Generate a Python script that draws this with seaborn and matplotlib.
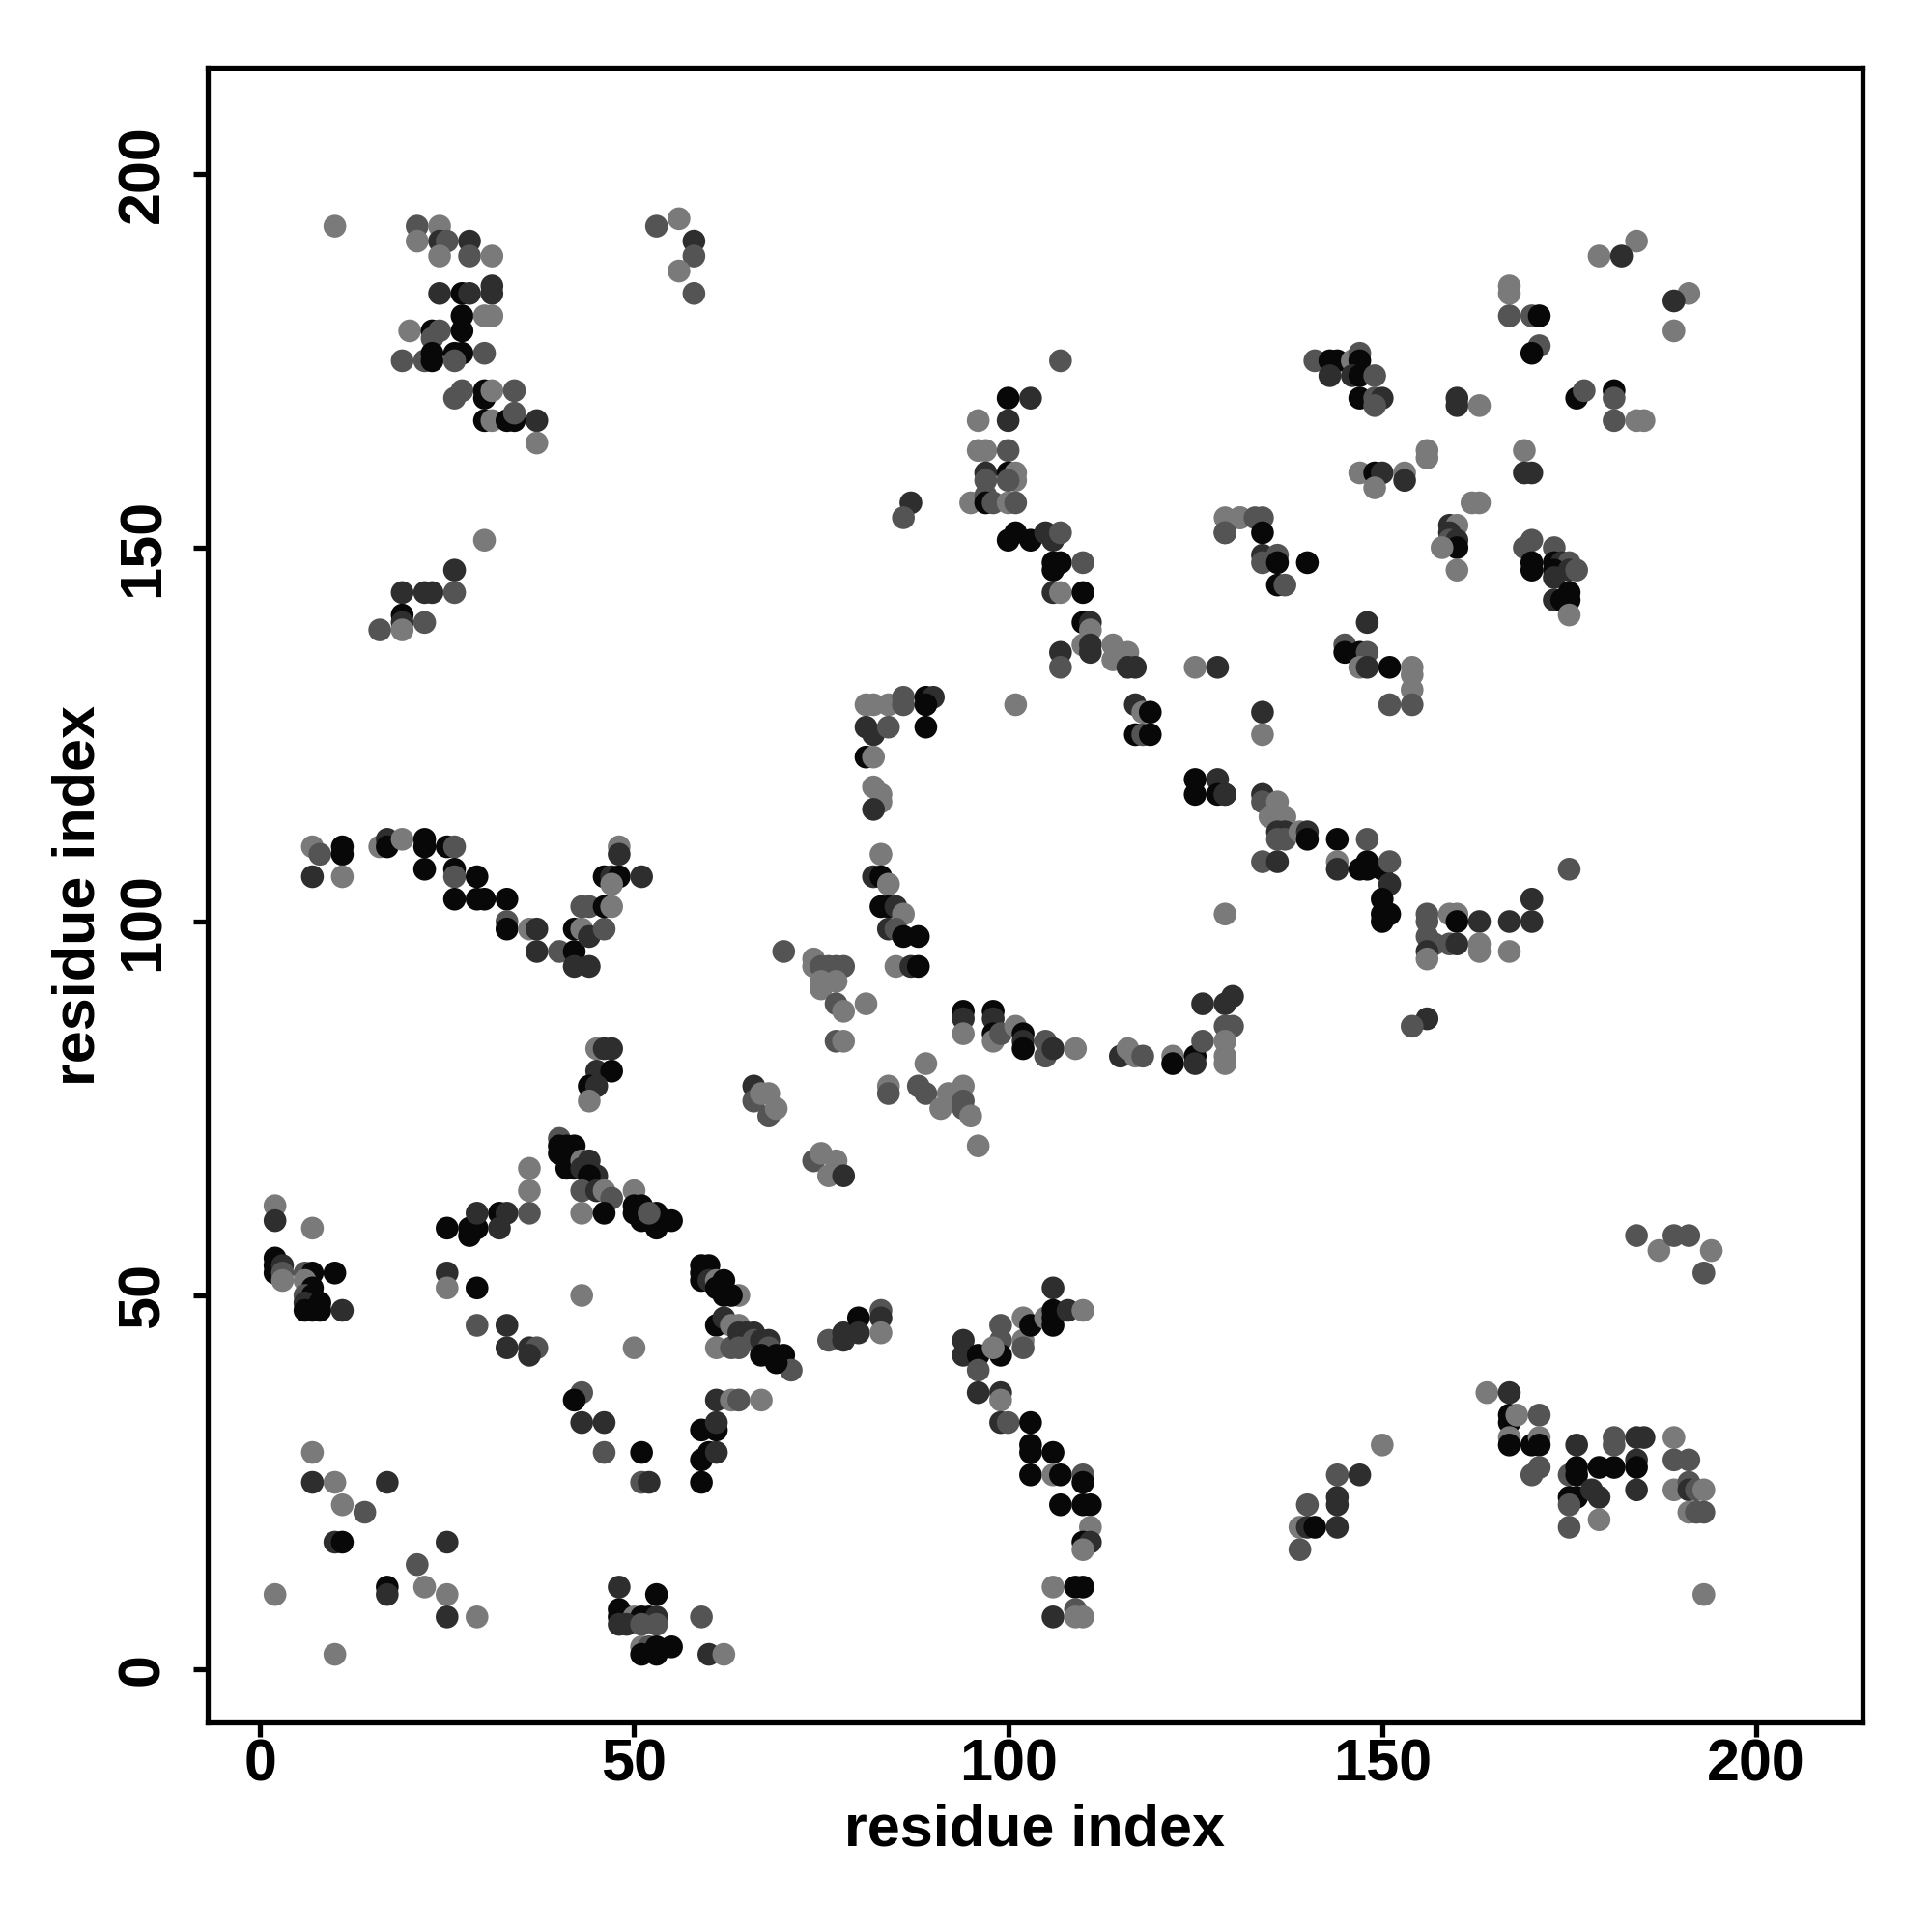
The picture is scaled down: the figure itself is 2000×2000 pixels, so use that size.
"""Residue contact map: predicted contacts shaded by confidence level."""

import matplotlib

matplotlib.use("Agg")
import matplotlib.pyplot as plt
import numpy as np
import pandas as pd
import seaborn as sns

# contact pairs (residue i, residue j) and confidence level (1 = low ... 4 = high),
# grouped by region of the map
a_i = [10, 21, 21, 24, 24, 25, 28, 28, 24, 31, 24, 27, 28, 31, 31, 27, 30, 31, 20, 23,
       24, 23, 27, 19, 22, 23, 23, 26, 27, 26, 30, 27, 26, 30, 30, 31, 34, 30, 31, 33,
       34, 34, 37, 37, 30, 26, 19, 22, 23, 26, 19, 19, 19, 16, 22]
a_j = [193, 193, 191, 193, 191, 191, 191, 189, 189, 189, 184, 184, 184, 185, 184, 181, 181, 181, 179, 179,
       179, 178, 179, 175, 175, 176, 175, 176, 176, 175, 176, 171, 170, 171, 170, 171, 171, 167, 167, 167,
       167, 168, 167, 164, 151, 147, 144, 144, 144, 144, 141, 140, 139, 139, 140]
a_p = [1, 2, 1, 1, 3, 2, 3, 2, 1, 1, 3, 4, 3, 3, 3, 4, 1, 1, 1, 4,
       2, 2, 4, 2, 2, 4, 4, 4, 4, 2, 2, 2, 2, 4, 4, 1, 2, 4, 1, 4,
       4, 2, 3, 1, 1, 3, 3, 3, 3, 2, 4, 3, 1, 2, 2]

b_i = [53, 56, 58, 58, 56, 58]
b_j = [193, 194, 191, 189, 187, 184]
b_p = [2, 1, 3, 2, 1, 2]

c_i = [107, 100, 103, 96, 100, 96, 97, 100, 97, 100, 101, 97, 101, 100, 95, 97, 97, 98, 100, 101,
       87, 86, 100, 101, 103, 105, 106, 107, 106, 107, 106, 110, 106, 107, 110, 110, 111, 111, 107, 107,
       110, 111, 111, 114, 116, 114, 116, 117, 117, 118, 119, 117, 118, 119, 101]
c_j = [175, 170, 170, 167, 167, 163, 163, 163, 160, 160, 160, 159, 159, 159, 156, 157, 156, 156, 156, 156,
       156, 154, 151, 152, 151, 152, 151, 152, 148, 148, 147, 148, 144, 144, 144, 140, 140, 139, 136, 134,
       137, 136, 137, 137, 136, 135, 134, 134, 129, 128, 128, 125, 125, 125, 129]
c_p = [2, 4, 3, 1, 3, 1, 1, 2, 3, 4, 1, 2, 1, 2, 1, 2, 4, 2, 1, 2,
       3, 2, 4, 4, 4, 3, 3, 2, 4, 4, 4, 2, 3, 1, 4, 4, 3, 1, 3, 2,
       1, 3, 3, 1, 1, 1, 3, 3, 3, 1, 4, 4, 2, 4, 1]

d_i = [81, 82, 84, 86, 86, 89, 90, 89, 81, 82, 84, 89, 81, 82, 82, 83, 83, 82, 83, 82,
       83, 84, 83, 84, 85, 86, 84, 85, 86, 88, 85, 87, 88]
d_j = [129, 129, 129, 130, 129, 130, 130, 129, 126, 125, 126, 126, 122, 122, 118, 117, 116, 115, 109, 106,
       106, 105, 102, 102, 102, 101, 99, 99, 98, 98, 94, 94, 94]
d_p = [1, 1, 1, 2, 2, 4, 3, 4, 3, 3, 2, 4, 4, 1, 1, 1, 1, 3, 1, 3,
       4, 1, 4, 4, 3, 1, 3, 2, 4, 4, 1, 3, 4]

e_i = [129, 131, 129, 131, 133, 134, 129, 134, 134, 136, 134, 136, 140, 136, 137, 125, 128, 134, 134, 125,
       125, 128, 128, 129, 129, 134, 134, 136, 135, 137, 136, 137, 136, 137, 139, 140, 140, 134, 136, 129]
e_j = [154, 154, 152, 154, 154, 154, 152, 152, 149, 149, 148, 148, 148, 145, 145, 134, 134, 128, 125, 119,
       117, 119, 117, 117, 117, 117, 116, 116, 114, 114, 112, 112, 111, 111, 112, 112, 111, 108, 108, 101]
e_p = [1, 1, 2, 1, 2, 2, 2, 4, 3, 2, 2, 4, 4, 4, 2, 1, 3, 3, 1, 4,
       4, 3, 4, 3, 3, 3, 2, 1, 1, 1, 3, 3, 2, 2, 1, 3, 4, 2, 3, 1]

f_i = [184, 179, 182, 167, 167, 167, 170, 171, 171, 170, 191, 189, 189, 141, 143, 144, 143, 146, 147, 147,
       146, 147, 149, 147, 149, 150, 149, 160, 160, 163, 176, 177, 181, 181, 181, 184, 185, 156, 156, 169,
       169, 170, 147, 149, 150, 153, 153, 149, 162, 163]
f_j = [191, 189, 189, 185, 184, 181, 181, 181, 177, 176, 184, 183, 179, 175, 175, 175, 173, 175, 176, 175,
       173, 173, 173, 170, 170, 170, 169, 170, 169, 169, 170, 171, 171, 170, 167, 167, 167, 163, 162, 163,
       160, 160, 160, 160, 160, 160, 159, 158, 156, 156]
f_p = [1, 1, 3, 1, 1, 2, 2, 4, 2, 4, 1, 3, 1, 2, 4, 4, 3, 1, 2, 4,
       3, 4, 2, 4, 2, 3, 2, 3, 3, 1, 4, 2, 4, 2, 2, 1, 1, 1, 1, 1,
       3, 3, 1, 4, 3, 1, 3, 1, 1, 1]

g_i = [159, 160, 159, 159, 160, 160, 158, 169, 170, 173, 170, 173, 174, 175, 160, 170, 173, 175, 176, 173,
       173, 174, 175, 175, 175, 148, 145, 145, 147, 148, 147, 148, 151, 154, 154, 154, 154, 151]
g_j = [153, 153, 152, 151, 151, 150, 150, 150, 151, 150, 148, 148, 148, 148, 147, 147, 147, 147, 147, 146,
       143, 143, 144, 143, 141, 140, 137, 136, 136, 136, 134, 134, 134, 134, 133, 131, 129, 129]
g_p = [3, 1, 3, 2, 3, 4, 1, 2, 2, 2, 4, 4, 3, 2, 1, 4, 4, 3, 2, 3,
       3, 4, 4, 4, 1, 3, 2, 4, 4, 2, 1, 3, 4, 1, 1, 1, 2, 2]

h_i = [144, 148, 144, 144, 147, 148, 148, 150, 151, 151, 150, 150, 151, 150, 175, 156, 156, 159, 160, 160,
       163, 167, 170, 170, 156, 157, 159, 160, 163, 163, 167, 156, 156, 156, 154]
h_j = [111, 111, 108, 107, 107, 108, 107, 107, 108, 105, 103, 101, 101, 100, 107, 101, 100, 101, 101, 100,
       100, 100, 100, 103, 98, 97, 97, 97, 97, 96, 96, 96, 95, 87, 86]
h_p = [4, 2, 1, 3, 4, 4, 4, 4, 2, 3, 4, 4, 4, 4, 2, 2, 2, 1, 1, 4,
       3, 3, 3, 3, 2, 2, 2, 3, 1, 1, 1, 3, 1, 3, 2]

m_i = [70, 74, 74, 75, 76, 77, 78, 75, 77, 75, 77, 78, 81, 77, 78, 66, 66, 67, 68, 68,
       69, 84, 84, 88, 89, 92, 94, 94, 94, 91, 95, 89, 96, 74, 75, 77, 76, 78]
m_j = [96, 95, 94, 94, 94, 94, 94, 92, 92, 91, 89, 88, 89, 84, 84, 78, 76, 77, 77, 74,
       75, 78, 77, 78, 77, 77, 78, 76, 75, 75, 74, 81, 70, 68, 69, 68, 66, 66]
m_p = [2, 1, 1, 2, 2, 2, 2, 1, 1, 1, 2, 1, 1, 2, 1, 3, 2, 1, 1, 2,
       1, 1, 2, 2, 2, 1, 1, 2, 2, 1, 1, 1, 1, 2, 1, 1, 1, 3]

n_i = [94, 94, 94, 98, 98, 98, 98, 99, 101, 102, 102, 102, 105, 105, 106, 109, 115, 116, 117, 118,
       122, 122, 125, 125, 126, 126, 129, 130, 129, 130, 129, 129, 129]
n_j = [88, 87, 85, 88, 87, 85, 84, 85, 86, 85, 84, 83, 84, 82, 83, 83, 82, 83, 82, 82,
       82, 81, 82, 81, 84, 89, 89, 90, 86, 86, 84, 82, 81]
n_p = [4, 3, 1, 4, 3, 4, 1, 2, 1, 4, 3, 4, 2, 2, 3, 1, 3, 1, 1, 2,
       1, 4, 4, 3, 2, 3, 3, 3, 2, 2, 1, 1, 1]

i_i = [7, 8, 7, 11, 11, 11, 16, 17, 17, 19, 22, 22, 25, 26, 22, 26, 26, 29, 26, 29,
       30, 33, 33, 33, 36, 37, 37, 40, 42, 42, 44, 42, 43, 44, 46, 43, 44, 46, 47, 46,
       47, 48, 51, 47, 48, 48, 45, 46, 47, 45, 47, 44, 45, 44]
i_j = [110, 109, 106, 110, 109, 106, 110, 111, 110, 111, 111, 110, 110, 110, 107, 107, 106, 106, 103, 103,
       103, 103, 100, 99, 99, 99, 96, 96, 96, 94, 94, 99, 99, 98, 99, 102, 102, 102, 102, 106,
       106, 106, 106, 105, 110, 109, 83, 83, 83, 80, 80, 78, 78, 76]
i_p = [1, 2, 3, 4, 4, 1, 1, 3, 4, 1, 4, 4, 4, 2, 4, 4, 2, 4, 4, 4,
       4, 4, 2, 4, 1, 3, 3, 2, 4, 3, 3, 4, 1, 3, 2, 2, 2, 4, 1, 4,
       3, 4, 3, 1, 1, 3, 1, 3, 3, 3, 4, 4, 3, 1]

j_i = [2, 2, 7, 2, 2, 2, 3, 3, 3, 6, 7, 6, 7, 6, 7, 6, 8, 6, 7, 8,
       10, 11, 25, 28, 28, 29, 29, 32, 33, 32, 25, 25, 29, 36, 36, 36, 29, 33, 33, 36,
       37, 36]
j_j = [62, 60, 59, 55, 54, 53, 54, 53, 52, 53, 53, 52, 51, 50, 50, 49, 49, 48, 48, 48,
       53, 48, 59, 58, 59, 59, 61, 61, 61, 59, 53, 51, 51, 67, 64, 61, 46, 46, 43, 43,
       43, 42]
j_p = [1, 3, 1, 4, 4, 4, 3, 2, 1, 2, 4, 1, 4, 2, 4, 3, 4, 4, 4, 4,
       4, 3, 4, 4, 4, 4, 3, 4, 3, 3, 3, 1, 4, 1, 1, 2, 2, 3, 3, 3,
       2, 3]

k_i = [40, 40, 41, 42, 40, 41, 41, 42, 43, 44, 43, 45, 44, 43, 45, 46, 47, 43, 46, 50,
       50, 51, 50, 51, 52, 53, 53, 55, 52, 43, 59, 60, 59, 59, 60, 61, 62, 62, 64, 61,
       63, 61, 62, 63, 61, 63, 64, 64, 65, 66, 66, 67, 68, 68, 69, 70, 70, 71, 69, 67, 64]
k_j = [71, 70, 70, 70, 69, 69, 67, 67, 68, 68, 67, 66, 66, 64, 64, 64, 63, 61, 61, 64,
       62, 62, 61, 60, 60, 61, 59, 60, 61, 50, 54, 54, 53, 52, 52, 52, 52, 50, 50, 51,
       50, 46, 47, 46, 43, 43, 46, 45, 45, 45, 44, 44, 44, 43, 42, 42, 41, 40, 41, 42, 43]
k_p = [2, 4, 4, 4, 4, 4, 4, 4, 1, 3, 3, 3, 4, 2, 3, 1, 2, 1, 4, 1,
       4, 4, 4, 4, 4, 4, 4, 4, 2, 1, 4, 4, 4, 4, 3, 1, 4, 4, 1, 4,
       4, 4, 3, 1, 1, 2, 1, 3, 3, 3, 2, 3, 3, 2, 4, 4, 4, 2, 4, 4, 2]

l_i = [50, 43, 42, 43, 46, 46, 51, 51, 52, 59, 59, 60, 61, 59, 61, 61, 61, 63, 64, 67,
       7, 7, 10, 17, 11, 14, 10, 11, 25, 21, 2, 17, 17, 22, 25, 25, 29, 10, 48, 53,
       48, 48, 49, 50, 51, 52, 53, 48, 49, 51, 53, 59, 51, 52, 53, 55, 51, 53, 60, 62]
l_j = [43, 37, 36, 33, 33, 29, 29, 25, 25, 25, 28, 29, 29, 32, 32, 33, 36, 36, 36, 36,
       29, 25, 25, 25, 22, 21, 17, 17, 17, 14, 10, 11, 10, 11, 10, 7, 7, 2, 11, 10,
       8, 7, 7, 7, 7, 7, 7, 6, 6, 6, 6, 7, 3, 3, 3, 3, 2, 2, 2, 2]
l_p = [1, 2, 4, 3, 3, 2, 4, 2, 3, 4, 4, 4, 3, 4, 4, 3, 3, 1, 2, 1,
       1, 3, 1, 3, 1, 2, 3, 4, 3, 2, 1, 4, 3, 1, 1, 3, 1, 1, 3, 4,
       4, 4, 4, 1, 4, 4, 3, 3, 3, 2, 2, 2, 1, 2, 4, 4, 4, 4, 3, 1]

o_i = [76, 78, 78, 80, 80, 83, 83, 83, 94, 94, 96, 96, 96, 99, 99, 99, 99, 99, 98, 102,
       102, 102, 103, 105, 106, 106, 106, 106, 108, 110, 99, 100, 103, 103, 103, 106, 103, 106, 107, 110,
       110, 107, 110, 111, 111, 110, 111, 110, 106, 109, 110, 106, 109, 110, 109]
o_j = [44, 45, 44, 47, 45, 48, 47, 45, 44, 42, 42, 40, 37, 37, 36, 46, 44, 42, 43, 47,
       44, 43, 46, 47, 51, 48, 47, 46, 48, 48, 33, 33, 33, 30, 29, 29, 26, 26, 26, 26,
       25, 22, 22, 22, 19, 17, 17, 16, 11, 11, 11, 7, 8, 7, 7]
o_p = [2, 3, 3, 4, 3, 2, 3, 1, 3, 3, 4, 2, 3, 3, 1, 2, 2, 4, 1, 1,
       1, 2, 4, 1, 3, 4, 4, 4, 3, 1, 3, 2, 4, 4, 4, 4, 4, 1, 4, 2,
       4, 4, 4, 4, 1, 4, 3, 1, 1, 4, 4, 3, 2, 1, 1]

q_i = [150, 144, 147, 144, 144, 140, 139, 140, 141, 144, 139, 164, 167, 167, 167, 168, 171, 167, 167, 170,
       171, 171, 170, 171, 175, 176, 176, 176, 175, 176, 175, 175, 179, 181, 178, 179, 179, 181, 181, 184,
       185, 184, 184, 184, 189, 189, 191, 189, 191, 191, 192, 193, 191, 192, 193, 193, 184, 187, 189, 191,
       194, 193]
q_j = [30, 26, 26, 23, 22, 22, 19, 19, 19, 19, 16, 37, 37, 34, 33, 34, 34, 31, 30, 30,
       31, 30, 26, 27, 26, 30, 27, 26, 23, 23, 22, 19, 27, 27, 24, 23, 20, 31, 30, 31,
       31, 28, 27, 24, 31, 28, 28, 24, 25, 24, 24, 24, 21, 21, 21, 10, 58, 56, 58, 58,
       56, 53]
q_p = [1, 2, 3, 3, 3, 2, 1, 3, 4, 3, 2, 1, 3, 4, 4, 1, 2, 1, 4, 4,
       1, 4, 2, 2, 2, 3, 4, 4, 4, 4, 2, 2, 4, 4, 3, 3, 1, 2, 2, 3,
       3, 3, 4, 3, 1, 2, 2, 1, 2, 3, 2, 1, 1, 2, 2, 1, 2, 1, 2, 2,
       1, 2]

groups = [
    (a_i, a_j, a_p), (b_i, b_j, b_p), (c_i, c_j, c_p), (d_i, d_j, d_p),
    (e_i, e_j, e_p), (f_i, f_j, f_p), (g_i, g_j, g_p), (h_i, h_j, h_p),
    (m_i, m_j, m_p), (n_i, n_j, n_p), (i_i, i_j, i_p), (j_i, j_j, j_p),
    (k_i, k_j, k_p), (l_i, l_j, l_p), (o_i, o_j, o_p), (q_i, q_j, q_p),
]
contacts = pd.DataFrame({
    "i": np.concatenate([g[0] for g in groups]),
    "j": np.concatenate([g[1] for g in groups]),
    "level": np.concatenate([g[2] for g in groups]),
})

sns.set_style("ticks")
plt.rcParams["font.family"] = ["Liberation Sans", "DejaVu Sans"]
plt.rcParams["font.weight"] = "bold"

fig = plt.figure(figsize=(10, 10), dpi=200)
ax = fig.add_axes([0.1075, 0.1085, 0.8565, 0.8565])

grey = sns.blend_palette(["#7a7a7a", "#080808"], as_cmap=True)
sns.scatterplot(data=contacts, x="i", y="j", hue="level", palette=grey,
                hue_norm=(1, 4), s=72, linewidth=0, legend=False, ax=ax)

ax.set_xlim(-7, 214.2)
ax.set_ylim(-7.1, 214.2)
ticks = [0, 50, 100, 150, 200]
ax.set_xticks(ticks)
ax.set_yticks(ticks)
ax.set_yticklabels([str(t) for t in ticks], rotation=90, va="center")
ax.tick_params(direction="out", length=5.5, width=1.9, labelsize=22,
               colors="black", labelcolor="black")
ax.tick_params(axis="x", pad=0.5)
ax.tick_params(axis="y", pad=8)
ax.set_xlabel("residue index", fontsize=22, fontweight="bold", color="black", labelpad=3.5)
ax.set_ylabel("residue index", fontsize=22, fontweight="bold", color="black", labelpad=3.5)
for sp in ax.spines.values():
    sp.set_visible(True)
    sp.set_linewidth(1.9)
    sp.set_color("black")

fig.savefig("out.png", dpi=200)
